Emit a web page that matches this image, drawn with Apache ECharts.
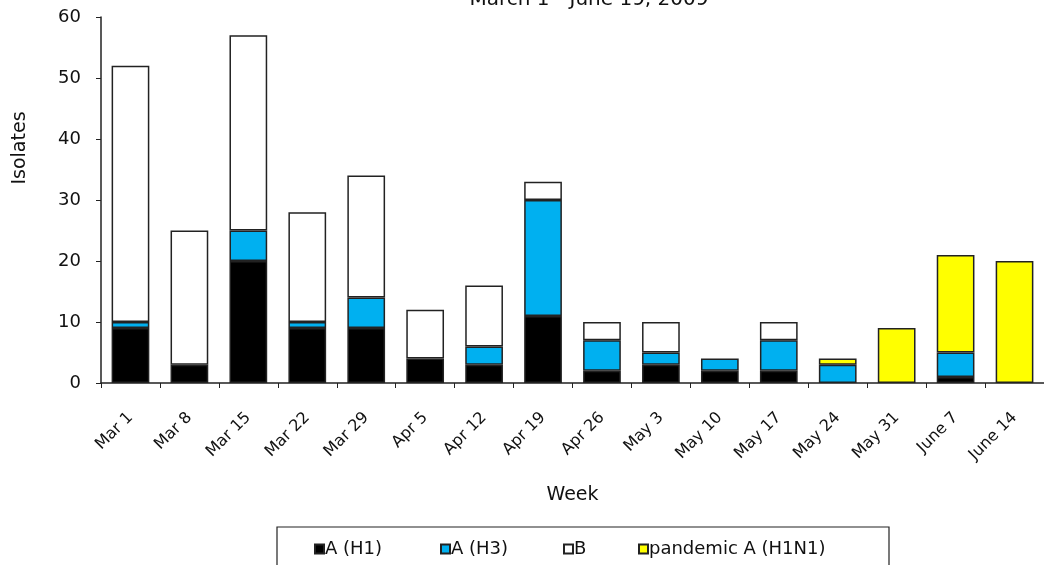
<!DOCTYPE html>
<html>
<head>
<meta charset="utf-8">
<script src="https://cdn.jsdelivr.net/npm/echarts@6/dist/echarts.min.js"></script>
<style>html,body{margin:0;padding:0;background:#fff;}#c{width:1044px;height:565px;}</style>
</head>
<body>
<div id="c"></div>
<script>
const categories = ['Mar 1','Mar 8','Mar 15','Mar 22','Mar 29','Apr 5','Apr 12','Apr 19','Apr 26','May 3','May 10','May 17','May 24','May 31','June 7','June 14'];
const aH1 =      [9, 3, 20, 9, 9, 4, 3, 11, 2, 3, 2, 2, '-', '-', 1, '-'];
const aH3 =      [1, '-', 5, 1, 5, '-', 3, 19, 5, 2, 2, 5, 3, '-', 4, '-'];
const bVals =    [42, 22, 32, 18, 20, 8, 10, 3, 3, 5, '-', 3, '-', '-', '-', '-'];
const pandemic = ['-', '-', '-', '-', '-', '-', '-', '-', '-', '-', '-', '-', 1, 9, 16, 20];
const seriesNames = ['A (H1)', 'A (H3)', 'B', 'pandemic A (H1N1)'];
const yTicks = [0, 10, 20, 30, 40, 50, 60];

const FONT = 'DejaVu Sans';
const chart = echarts.init(document.getElementById('c'), null, {renderer: 'canvas'});
function series(name, data, color) {
  return {
    name, type: 'bar', stack: 'total', data,
    barWidth: '64%',
    itemStyle: {color, borderColor: '#222', borderWidth: 1.5},
    emphasis: {disabled: true}
  };
}
const legendLefts = [314, 440, 563, 638];
const legends = seriesNames.map((n, i) => ({
  left: legendLefts[i], top: 540, padding: 0,
  itemWidth: 9, itemHeight: 9, icon: 'rect',
  textStyle: {fontFamily: FONT, fontSize: 18, color: '#111', padding: [0, 0, 0, -4]},
  data: [n]
}));
chart.setOption({
  animation: false,
  title: {
    text: 'March 1 - June 19, 2009',
    left: 584, textAlign: 'center', top: -15,
    textStyle: {fontFamily: FONT, fontSize: 20, fontWeight: 'normal', color: '#111'}
  },
  legend: legends,
  graphic: [{
    type: 'rect', shape: {x: 277, y: 527, width: 612, height: 50},
    style: {fill: 'none', stroke: '#222', lineWidth: 1.2}, silent: true
  }],
  grid: {left: 101, top: 17, width: 949, height: 366, containLabel: false},
  xAxis: {
    type: 'category', data: categories,
    name: 'Week', nameLocation: 'middle', nameGap: 103,
    nameTextStyle: {fontFamily: FONT, fontSize: 19, color: '#111'},
    axisLine: {lineStyle: {color: '#222', width: 1.5}},
    axisTick: {show: true, length: 5, lineStyle: {color: '#222'}},
    axisLabel: {rotate: 45, margin: 32, padding: [18, 0, 0, 0], fontFamily: FONT, fontSize: 16, color: '#111', interval: 0}
  },
  yAxis: {
    type: 'value', min: 0, max: 60, interval: 10,
    name: 'Isolates', nameLocation: 'middle', nameGap: 71, nameRotate: 90,
    nameTextStyle: {fontFamily: FONT, fontSize: 19, color: '#111', padding: [0, 0, 0, 104]},
    axisLine: {show: true, lineStyle: {color: '#222', width: 1.5}},
    axisTick: {show: true, length: 5, lineStyle: {color: '#222'}},
    splitLine: {show: false},
    axisLabel: {margin: 20, fontFamily: FONT, fontSize: 18, color: '#111',
      formatter: v => yTicks.includes(v) ? String(v) : ''}
  },
  series: [
    series(seriesNames[0], aH1, '#000000'),
    series(seriesNames[1], aH3, '#00B0F0'),
    series(seriesNames[2], bVals, '#FFFFFF'),
    series(seriesNames[3], pandemic, '#FFFF00')
  ]
});
</script>
</body>
</html>
